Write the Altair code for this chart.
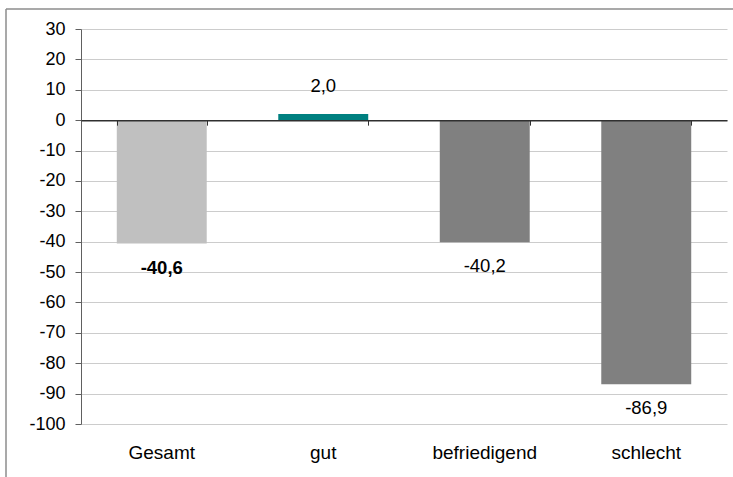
import altair as alt
import pandas as pd

# Saldo je Bewertungsgruppe
categories = ["Gesamt", "gut", "befriedigend", "schlecht"]
values = [-40.6, 2.0, -40.2, -86.9]
bar_colors = ["#C0C0C0", "#008080", "#808080", "#808080"]
y_ticks = list(range(-100, 31, 10))

df = pd.DataFrame({"kategorie": categories, "wert": values})
df["label"] = [f"{v:.1f}".replace(".", ",") for v in values]

W, H = 646, 395
FONT = "Liberation Sans"
Y_MIN, Y_MAX = -100, 30
zero_px = H * Y_MAX / (Y_MAX - Y_MIN)

x_scale = alt.Scale(domain=categories, paddingInner=0.443, paddingOuter=0.2215)
y_scale = alt.Scale(domain=[Y_MIN, Y_MAX], nice=False, zero=False)

y_axis = alt.Axis(title=None, values=y_ticks, grid=True, gridColor="#CCCCCC",
                  domainColor="#606060", tickColor="#606060", tickSize=6,
                  labelFontSize=18, labelColor="black", labelFont=FONT,
                  labelPadding=10, labelOverlap=False,
                  labelExpr="'' + datum.value")
y_enc = alt.Y("wert:Q", scale=y_scale, axis=y_axis)
x_plain = alt.X("kategorie:N", sort=categories, scale=x_scale, axis=None)

base = alt.Chart(df)

bars = base.mark_bar().encode(
    x=alt.X("kategorie:N", sort=categories, scale=x_scale,
            axis=alt.Axis(title=None, domain=False, ticks=False, labelAngle=0,
                          labelPadding=19, labelFontSize=19, labelColor="black",
                          labelFont=FONT)),
    y=y_enc,
    y2=alt.datum(0),
    color=alt.Color("kategorie:N", scale=alt.Scale(domain=categories, range=bar_colors),
                    legend=None),
)

# Null-Linie mit Kategorie-Trennstrichen
zero_axis = base.mark_text(opacity=0).encode(
    x=alt.X("kategorie:N", sort=categories, scale=x_scale,
            axis=alt.Axis(title=None, labels=False, orient="bottom",
                          offset=-(H - zero_px), domainColor="#303030", domainWidth=1.5,
                          tickColor="#303030", tickSize=5, tickBand="extent", zindex=2)),
    y=y_enc,
)

neg_labels = base.transform_filter(
    "datum.wert < 0 && datum.kategorie != 'Gesamt'"
).mark_text(baseline="top", dy=15, fontSize=18.5, font=FONT, color="black").encode(
    x=x_plain, y=y_enc, text="label:N",
)

total_label = base.transform_filter("datum.kategorie == 'Gesamt'").mark_text(
    baseline="top", dy=15, fontSize=18.5, font=FONT, fontWeight="bold", color="black"
).encode(
    x=x_plain, y=y_enc, text="label:N",
)

pos_labels = base.transform_filter("datum.wert >= 0").mark_text(
    baseline="bottom", dy=-18, fontSize=18.5, font=FONT, color="black"
).encode(
    x=x_plain, y=y_enc, text="label:N",
)

# Rahmen um das Diagramm
frame_left = alt.Chart(pd.DataFrame({"k": [0]})).mark_rule(
    color="#8C8C8C", strokeWidth=1.5
).encode(x=alt.value(-75), y=alt.value(-20), y2=alt.value(470))
frame_top = alt.Chart(pd.DataFrame({"k": [0]})).mark_rule(
    color="#8C8C8C", strokeWidth=1.5
).encode(x=alt.value(-75), x2=alt.value(720), y=alt.value(-20))

chart = alt.layer(
    bars, zero_axis, neg_labels, total_label, pos_labels, frame_left, frame_top
).resolve_axis(x="independent").properties(
    width=W, height=H,
    autosize=alt.AutoSizeParams(type="none"),
    padding={"left": 81, "top": 29, "right": 6, "bottom": 53},
).configure(background="white").configure_view(stroke=None)

chart.save("out.html", embed_options={"renderer": "svg", "actions": False})
